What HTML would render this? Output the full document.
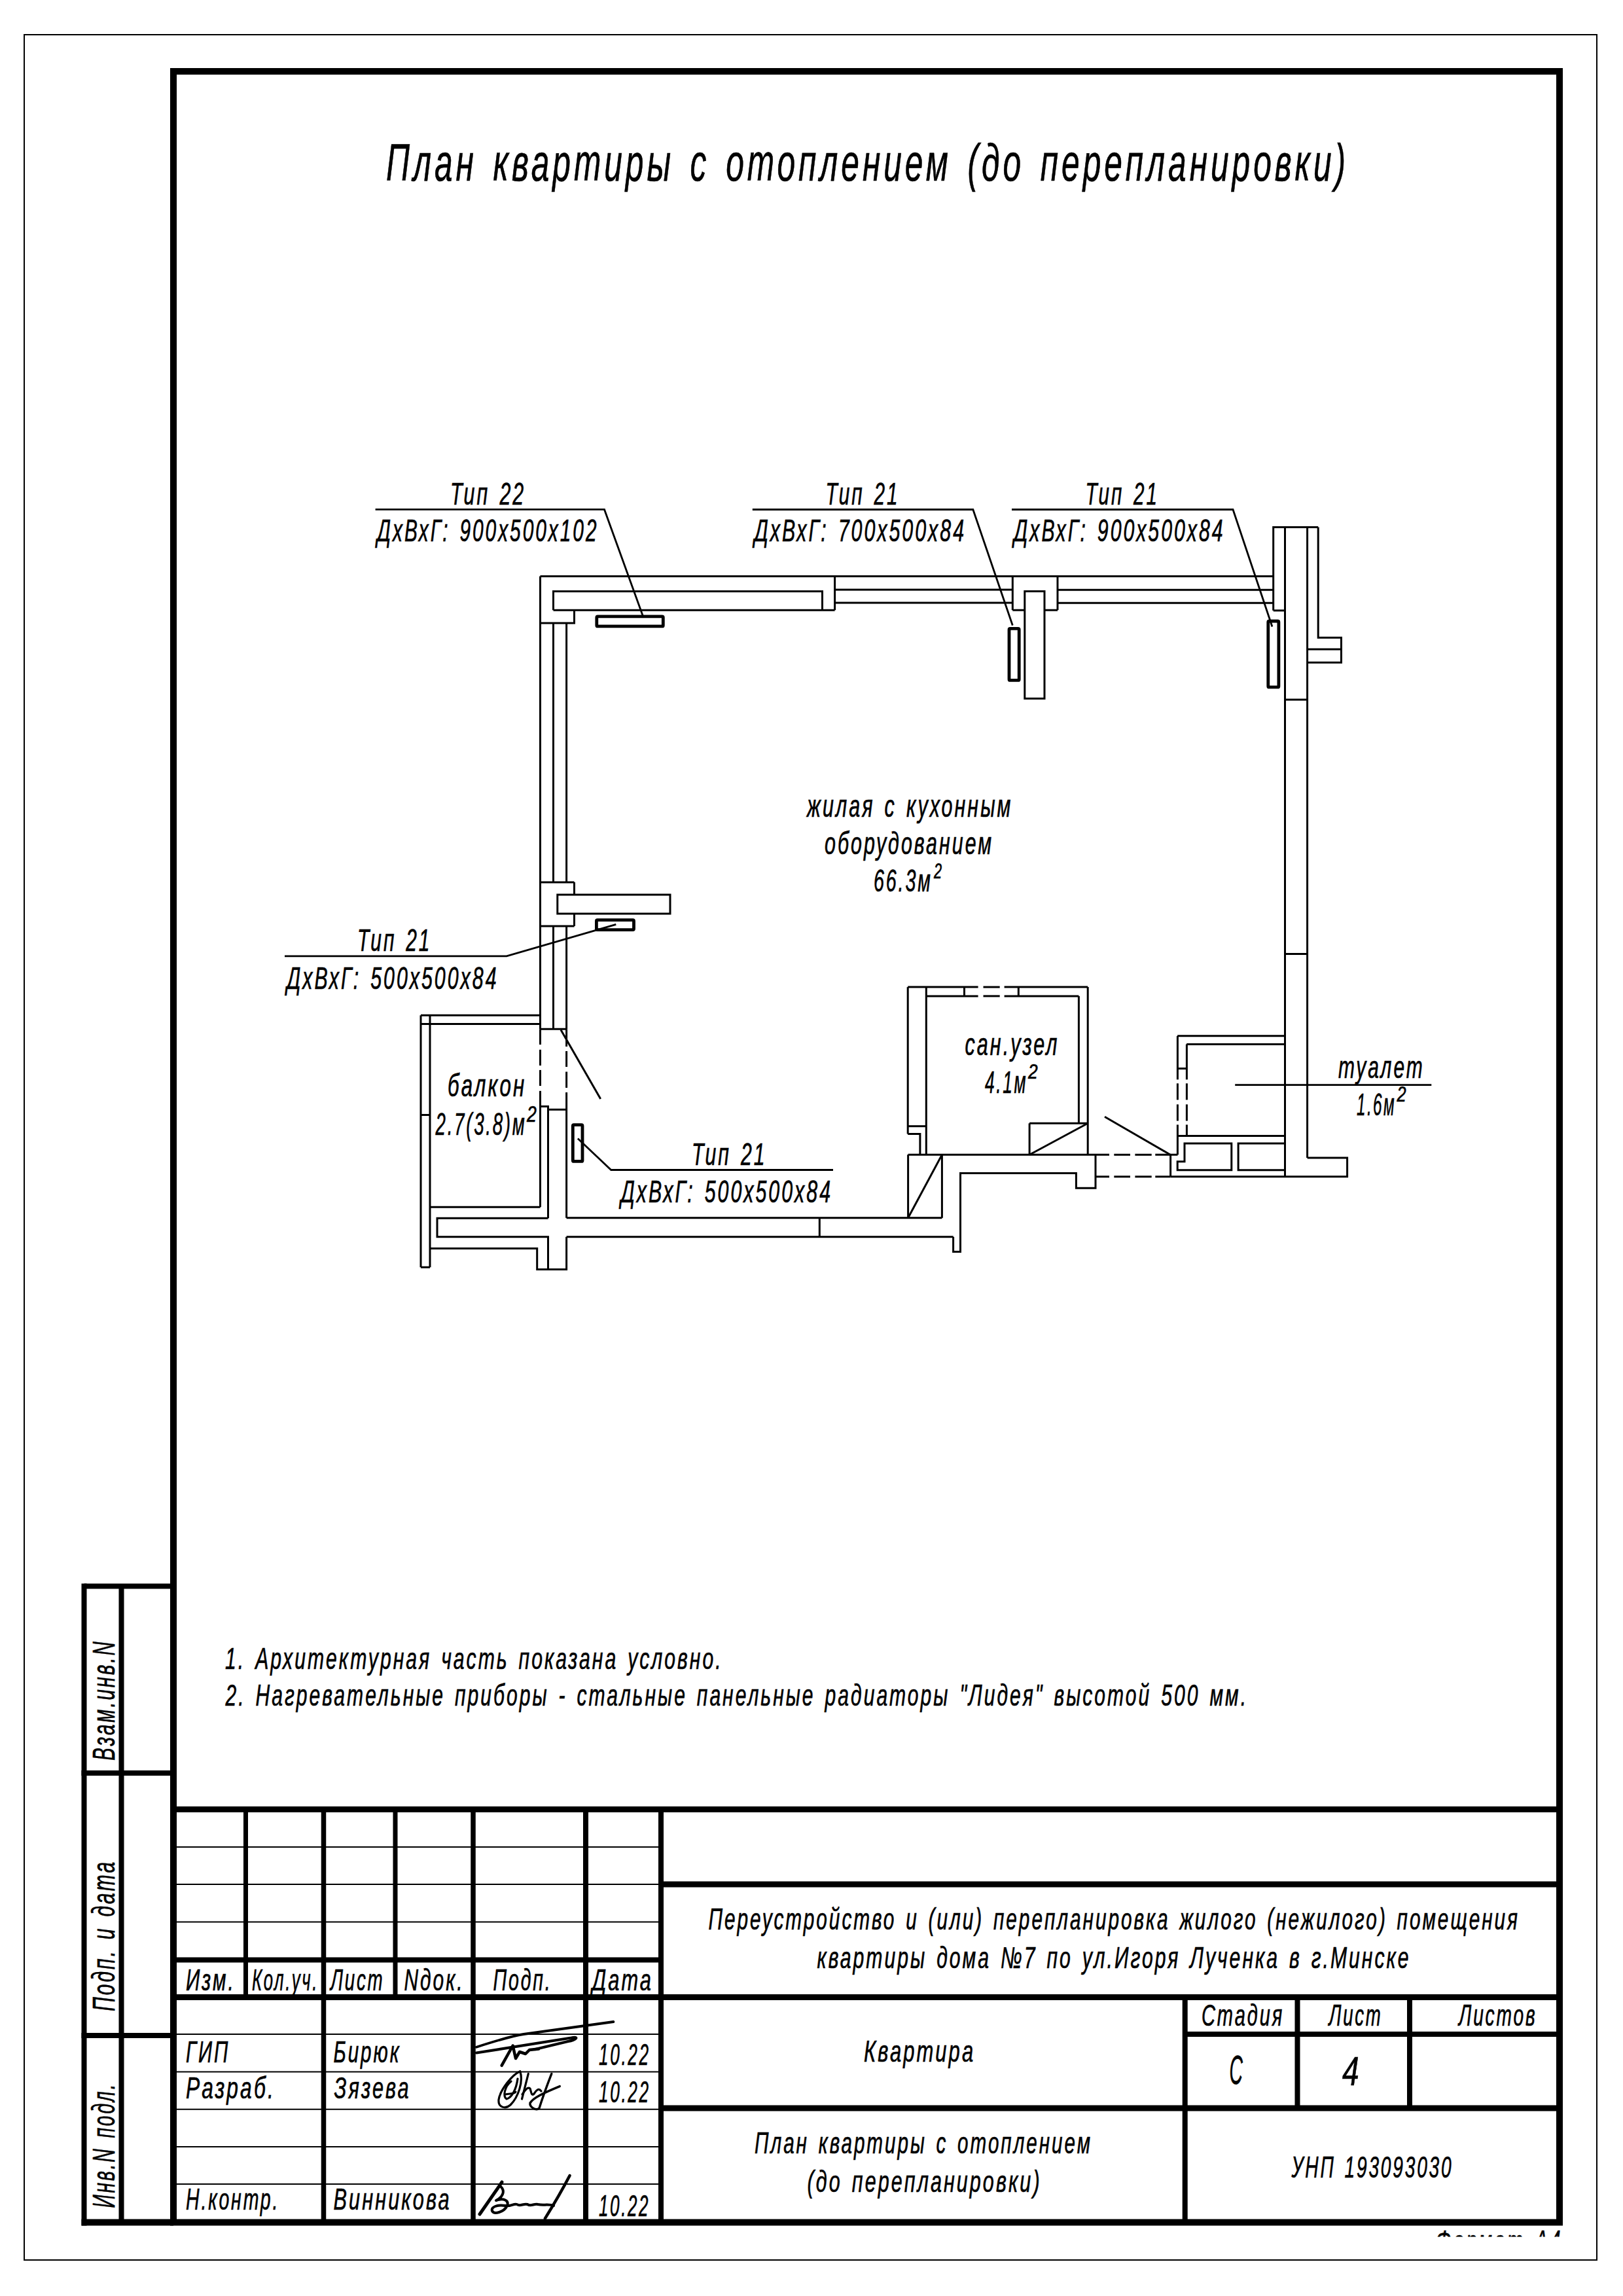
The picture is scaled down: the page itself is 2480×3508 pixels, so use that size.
<!DOCTYPE html>
<html><head><meta charset="utf-8"><title>План квартиры с отоплением</title><style>
html,body{margin:0;padding:0;background:#fff;}
svg{display:block;}
text{font-family:"Liberation Sans",sans-serif;font-style:italic;fill:#000;letter-spacing:0.1em;word-spacing:0.12em;stroke:#000;stroke-width:0.7px;}
</style></head><body>
<svg width="2480" height="3508" viewBox="0 0 2480 3508">
<defs><clipPath id="clipF"><rect x="2150" y="3402" width="300" height="15.5"/></clipPath></defs>
<rect x="0" y="0" width="2480" height="3508" fill="#fff"/>
<g stroke="#000" fill="none">
<rect x="37" y="53" width="2403" height="3400" stroke-width="2" fill="none"/>
<path d="M265,109 L2383,109 L2383,3395.5 L265,3395.5 Z" stroke-width="10" fill="none"/>
<line x1="128.5" y1="2423.5" x2="265" y2="2423.5" stroke-width="8"/>
<line x1="128.5" y1="2419.5" x2="128.5" y2="3400.5" stroke-width="8"/>
<line x1="185.5" y1="2423.5" x2="185.5" y2="3395.5" stroke-width="8"/>
<line x1="124.5" y1="2709" x2="265" y2="2709" stroke-width="8"/>
<line x1="124.5" y1="3110" x2="265" y2="3110" stroke-width="8"/>
<line x1="124.5" y1="3395.5" x2="265" y2="3395.5" stroke-width="10"/>
<line x1="265" y1="2764.5" x2="2383" y2="2764.5" stroke-width="9"/>
<line x1="265" y1="2822" x2="1010" y2="2822" stroke-width="2"/>
<line x1="265" y1="2879" x2="1010" y2="2879" stroke-width="2"/>
<line x1="265" y1="2936.5" x2="1010" y2="2936.5" stroke-width="2"/>
<line x1="265" y1="2994.5" x2="1010" y2="2994.5" stroke-width="8"/>
<line x1="265" y1="3051.5" x2="2383" y2="3051.5" stroke-width="9"/>
<line x1="265" y1="3108" x2="1010" y2="3108" stroke-width="2"/>
<line x1="265" y1="3165.5" x2="1010" y2="3165.5" stroke-width="2"/>
<line x1="265" y1="3222.8" x2="1010" y2="3222.8" stroke-width="2"/>
<line x1="265" y1="3280" x2="1010" y2="3280" stroke-width="2"/>
<line x1="265" y1="3337" x2="1010" y2="3337" stroke-width="2"/>
<line x1="375.5" y1="2764.5" x2="375.5" y2="3051.5" stroke-width="7"/>
<line x1="604" y1="2764.5" x2="604" y2="3051.5" stroke-width="7"/>
<line x1="494.5" y1="2764.5" x2="494.5" y2="3395.5" stroke-width="7.5"/>
<line x1="723" y1="2764.5" x2="723" y2="3395.5" stroke-width="7.5"/>
<line x1="895" y1="2764.5" x2="895" y2="3395.5" stroke-width="8"/>
<line x1="1010" y1="2764.5" x2="1010" y2="3395.5" stroke-width="8"/>
<line x1="1010" y1="2879" x2="2383" y2="2879" stroke-width="9"/>
<line x1="1010" y1="3221" x2="2383" y2="3221" stroke-width="9"/>
<line x1="1810.7" y1="3051.5" x2="1810.7" y2="3395.5" stroke-width="8"/>
<line x1="1810.7" y1="3108" x2="2383" y2="3108" stroke-width="8"/>
<line x1="1982.5" y1="3051.5" x2="1982.5" y2="3221" stroke-width="8"/>
<line x1="2154" y1="3051.5" x2="2154" y2="3221" stroke-width="8"/>
<line x1="825.5" y1="880.4" x2="1945.7" y2="880.4" stroke-width="3"/>
<line x1="825.5" y1="880.4" x2="825.5" y2="1572.3" stroke-width="3"/>
<path d="M845.5,932.2 L845.5,903.5 L1256.5,903.5 L1256.5,932.2" stroke-width="3" fill="none"/>
<line x1="845.5" y1="932.2" x2="1275.6" y2="932.2" stroke-width="3"/>
<line x1="1275.6" y1="880.4" x2="1275.6" y2="932.2" stroke-width="3"/>
<path d="M877.5,932.2 L877.5,952 L825.5,952" stroke-width="3" fill="none"/>
<line x1="1275.6" y1="900.9" x2="1547.3" y2="900.9" stroke-width="3"/>
<line x1="1275.6" y1="921.1" x2="1547.3" y2="921.1" stroke-width="3"/>
<line x1="1547.3" y1="880.4" x2="1547.3" y2="932.2" stroke-width="3"/>
<line x1="1547.3" y1="932.2" x2="1565.8" y2="932.2" stroke-width="3"/>
<rect x="1565.8" y="903.4" width="30.2" height="163.9" stroke-width="3" fill="none"/>
<line x1="1596" y1="932.2" x2="1616" y2="932.2" stroke-width="3"/>
<line x1="1616" y1="880.4" x2="1616" y2="932.2" stroke-width="3"/>
<line x1="1616" y1="901.3" x2="1945.7" y2="901.3" stroke-width="3"/>
<line x1="1616" y1="921.2" x2="1945.7" y2="921.2" stroke-width="3"/>
<path d="M1945.7,932.8 L1945.7,805.4 L2014.2,805.4" stroke-width="3" fill="none"/>
<line x1="1945.7" y1="932.8" x2="1963.5" y2="932.8" stroke-width="3"/>
<line x1="1963.5" y1="805.4" x2="1963.5" y2="1797.8" stroke-width="3"/>
<line x1="1997.6" y1="805.4" x2="1997.6" y2="1769.1" stroke-width="3"/>
<path d="M2014.2,805.4 L2014.2,974.2 L2049.5,974.2 L2049.5,1012.2 L1997.6,1012.2" stroke-width="3" fill="none"/>
<line x1="1997.6" y1="992" x2="2049.5" y2="992" stroke-width="3"/>
<line x1="1963.5" y1="1069" x2="1997.6" y2="1069" stroke-width="3"/>
<line x1="1963.5" y1="1457.6" x2="1997.6" y2="1457.6" stroke-width="3"/>
<path d="M1997.6,1769.1 L2058.6,1769.1 L2058.6,1797.8 L1788.6,1797.8" stroke-width="3" fill="none"/>
<line x1="825.5" y1="1572.3" x2="825.5" y2="1596" stroke-width="3"/>
<line x1="825.5" y1="1603.8" x2="825.5" y2="1628" stroke-width="3"/>
<line x1="825.5" y1="1634.9" x2="825.5" y2="1659" stroke-width="3"/>
<line x1="825.5" y1="1666.8" x2="825.5" y2="1844.2" stroke-width="3"/>
<line x1="845.5" y1="952" x2="845.5" y2="1348" stroke-width="3"/>
<line x1="845.5" y1="1415" x2="845.5" y2="1572.3" stroke-width="3"/>
<line x1="865.6" y1="952" x2="865.6" y2="1348" stroke-width="3"/>
<line x1="865.6" y1="1415" x2="865.6" y2="1572.3" stroke-width="3"/>
<line x1="865.6" y1="1572.3" x2="865.6" y2="1599" stroke-width="3"/>
<line x1="865.6" y1="1606" x2="865.6" y2="1630" stroke-width="3"/>
<line x1="865.6" y1="1637.5" x2="865.6" y2="1662" stroke-width="3"/>
<line x1="865.6" y1="1669" x2="865.6" y2="1860.8" stroke-width="3"/>
<line x1="825.5" y1="1348" x2="877.5" y2="1348" stroke-width="3"/>
<line x1="825.5" y1="1415" x2="877.5" y2="1415" stroke-width="3"/>
<line x1="877.5" y1="1348" x2="877.5" y2="1367" stroke-width="3"/>
<line x1="877.5" y1="1396" x2="877.5" y2="1415" stroke-width="3"/>
<rect x="851.8" y="1367" width="172.2" height="29" stroke-width="3" fill="none"/>
<line x1="825.5" y1="1572.3" x2="865.6" y2="1572.3" stroke-width="3"/>
<line x1="857" y1="1573.6" x2="917.7" y2="1678.9" stroke-width="3"/>
<path d="M825.5,1690.5 L837.5,1690.5 L837.5,1861.3" stroke-width="3" fill="none"/>
<line x1="837.5" y1="1695.3" x2="865.6" y2="1695.3" stroke-width="3"/>
<line x1="643" y1="1551.2" x2="825.5" y2="1551.2" stroke-width="3"/>
<line x1="643" y1="1564.4" x2="825.5" y2="1564.4" stroke-width="3"/>
<line x1="643" y1="1551.2" x2="643" y2="1936.2" stroke-width="3"/>
<line x1="657" y1="1551.2" x2="657" y2="1936.2" stroke-width="3"/>
<line x1="643" y1="1703.5" x2="657" y2="1703.5" stroke-width="3"/>
<line x1="643" y1="1936.2" x2="657" y2="1936.2" stroke-width="3"/>
<line x1="657" y1="1844.2" x2="825.5" y2="1844.2" stroke-width="3"/>
<path d="M837.5,1861.3 L668,1861.3 L668,1889.8 L837.5,1889.8 L837.5,1939.5" stroke-width="3" fill="none"/>
<path d="M657,1907.4 L820.7,1907.4 L820.7,1939.5 L865.6,1939.5 L865.6,1889.8" stroke-width="3" fill="none"/>
<line x1="865.6" y1="1860.8" x2="1439.4" y2="1860.8" stroke-width="3"/>
<line x1="865.6" y1="1889.8" x2="1456.6" y2="1889.8" stroke-width="3"/>
<line x1="1252.3" y1="1860.8" x2="1252.3" y2="1889.8" stroke-width="3"/>
<line x1="1387.6" y1="1764.2" x2="1387.6" y2="1860.8" stroke-width="3"/>
<line x1="1439.4" y1="1764.2" x2="1439.4" y2="1860.8" stroke-width="3"/>
<line x1="1439.4" y1="1764.2" x2="1387.6" y2="1860.8" stroke-width="3"/>
<path d="M1456.6,1889.8 L1456.6,1912.5 L1467.5,1912.5 L1467.5,1792.4 L1644.4,1792.4 L1644.4,1815.2 L1674,1815.2 L1674,1764.2" stroke-width="3" fill="none"/>
<line x1="1387.6" y1="1764.3" x2="1695" y2="1764.3" stroke-width="3"/>
<line x1="1702.3" y1="1764.3" x2="1727" y2="1764.3" stroke-width="3"/>
<line x1="1734.4" y1="1764.3" x2="1759.7" y2="1764.3" stroke-width="3"/>
<line x1="1765.3" y1="1764.3" x2="1799.5" y2="1764.3" stroke-width="3"/>
<line x1="1674" y1="1797.8" x2="1695" y2="1797.8" stroke-width="3"/>
<line x1="1702.3" y1="1797.8" x2="1727" y2="1797.8" stroke-width="3"/>
<line x1="1734.4" y1="1797.8" x2="1759.7" y2="1797.8" stroke-width="3"/>
<line x1="1765.3" y1="1797.8" x2="1788.6" y2="1797.8" stroke-width="3"/>
<line x1="1788.6" y1="1764.2" x2="1788.6" y2="1797.8" stroke-width="3"/>
<line x1="1688" y1="1706.2" x2="1788.6" y2="1764.5" stroke-width="3"/>
<line x1="1387.2" y1="1508.1" x2="1494.6" y2="1508.1" stroke-width="3"/>
<line x1="1502.5" y1="1508.1" x2="1527.7" y2="1508.1" stroke-width="3"/>
<line x1="1534.6" y1="1508.1" x2="1662.2" y2="1508.1" stroke-width="3"/>
<line x1="1415.3" y1="1521.9" x2="1494.6" y2="1521.9" stroke-width="3"/>
<line x1="1502.5" y1="1521.9" x2="1527.7" y2="1521.9" stroke-width="3"/>
<line x1="1534.6" y1="1521.9" x2="1648.4" y2="1521.9" stroke-width="3"/>
<line x1="1473.5" y1="1508.1" x2="1473.5" y2="1521.9" stroke-width="3"/>
<line x1="1556.3" y1="1508.1" x2="1556.3" y2="1521.9" stroke-width="3"/>
<line x1="1387.2" y1="1508.1" x2="1387.2" y2="1732.5" stroke-width="3"/>
<line x1="1387.2" y1="1720.7" x2="1415.3" y2="1720.7" stroke-width="3"/>
<path d="M1387.2,1732.5 L1405.9,1732.5 L1405.9,1764.2" stroke-width="3" fill="none"/>
<line x1="1415.3" y1="1508.1" x2="1415.3" y2="1764.2" stroke-width="3"/>
<line x1="1648.4" y1="1521.9" x2="1648.4" y2="1716.3" stroke-width="3"/>
<line x1="1662.2" y1="1508.1" x2="1662.2" y2="1764.2" stroke-width="3"/>
<line x1="1573.1" y1="1716.3" x2="1662.2" y2="1716.3" stroke-width="3"/>
<line x1="1573.1" y1="1716.3" x2="1573.1" y2="1764.2" stroke-width="3"/>
<line x1="1573.1" y1="1764.2" x2="1662.2" y2="1716.3" stroke-width="3"/>
<line x1="1799.2" y1="1582.8" x2="1963.5" y2="1582.8" stroke-width="3"/>
<line x1="1813.2" y1="1595.5" x2="1963.5" y2="1595.5" stroke-width="3"/>
<line x1="1799.4" y1="1582.8" x2="1799.4" y2="1649.4" stroke-width="3"/>
<line x1="1799.4" y1="1655.3" x2="1799.4" y2="1680.4" stroke-width="3"/>
<line x1="1799.4" y1="1687.4" x2="1799.4" y2="1712.5" stroke-width="3"/>
<line x1="1799.4" y1="1718.4" x2="1799.4" y2="1764.3" stroke-width="3"/>
<line x1="1813.4" y1="1595.5" x2="1813.4" y2="1649.4" stroke-width="3"/>
<line x1="1813.4" y1="1655.3" x2="1813.4" y2="1680.4" stroke-width="3"/>
<line x1="1813.4" y1="1687.4" x2="1813.4" y2="1712.5" stroke-width="3"/>
<line x1="1813.4" y1="1718.4" x2="1813.4" y2="1735.5" stroke-width="3"/>
<line x1="1799.4" y1="1632.6" x2="1813.4" y2="1632.6" stroke-width="3"/>
<line x1="1799.2" y1="1735.5" x2="1963.5" y2="1735.5" stroke-width="3"/>
<path d="M1810,1746.9 L1881.8,1746.9 L1881.8,1787.7 L1799.2,1787.7 L1799.2,1774.8 L1810,1774.8 Z" stroke-width="3" fill="none"/>
<path d="M1963.5,1746.9 L1892.1,1746.9 L1892.1,1787.7 L1963.5,1787.7" stroke-width="3" fill="none"/>
<rect x="911.8" y="941.9" width="101.5" height="15" stroke-width="4.8" fill="none" rx="1.5"/>
<rect x="1542" y="960.4" width="15.2" height="79" stroke-width="4.8" fill="none" rx="1.5"/>
<rect x="1937.8" y="949" width="16.1" height="100.9" stroke-width="4.8" fill="none" rx="1.5"/>
<rect x="911.4" y="1405.7" width="57.1" height="14.9" stroke-width="4.8" fill="none" rx="1.5"/>
<rect x="875.3" y="1718.7" width="14.7" height="55.7" stroke-width="4.8" fill="none" rx="1.5"/>
<path d="M573.6,778.4 L923.5,778.4 L983.3,943.8" stroke-width="2.8" fill="none"/>
<path d="M1149.8,778.5 L1486.8,778.5 L1547.3,955.5" stroke-width="2.8" fill="none"/>
<path d="M1546,778.5 L1884,778.5 L1944,957.5" stroke-width="2.8" fill="none"/>
<path d="M941.3,1412.4 L774.1,1460.9 L435,1460.9" stroke-width="2.8" fill="none"/>
<path d="M882.9,1739.6 L933.7,1787.5 L1273,1787.5" stroke-width="2.8" fill="none"/>
<line x1="1887.2" y1="1657.6" x2="2187.3" y2="1657.6" stroke-width="2.8"/>
</g>

<g stroke="#000" stroke-linecap="round" stroke-linejoin="round" fill="none">
<path d="M728,3127.7 C755,3119 780,3111 800,3108 L937.4,3089" stroke-width="3.8"/>
<path d="M728,3136.5 L873,3113.5 C886,3111 880,3117 868,3119 L818,3131" stroke-width="4.2"/>
<path d="M766.6,3155.8 L783.6,3125.5 L788,3145 L794,3135 L803,3138 L809,3132 L823,3130.6" stroke-width="4.5"/>
<path d="M794.7,3164.7 C782,3170 764,3194 762,3208 C761,3220 772,3223 780,3216 C792,3204 800,3180 794.7,3164.7" stroke-width="3.2"/>
<path d="M781,3180 C771,3188 768,3203 774,3207 C782,3205 789,3192 791,3176" stroke-width="3.2"/>
<path d="M772,3200 C778,3198 786,3200 788,3196" stroke-width="3"/>
<path d="M807.3,3168.4 L797.5,3207" stroke-width="3.2"/>
<path d="M798,3200 C802,3194 806,3188 810,3191 C812,3197 812,3203 816,3199 C820,3193 823,3190 827,3195" stroke-width="3.2"/>
<path d="M842.8,3168.4 C836,3186 829,3205 824,3221 C819,3226 809,3219 810,3213 C815,3205 830,3198 855.3,3187.6" stroke-width="3.4"/>
<path d="M733,3383 L767,3334" stroke-width="5"/>
<path d="M764,3340 C772,3346 770,3356 758,3362 C770,3358 778,3362 775,3370 C770,3380 755,3384 752,3378 C750,3372 760,3368 772,3370 C780,3372 785,3366 790,3368 C795,3372 800,3366 806,3368 C812,3372 816,3366 822,3368 C830,3370 838,3367 846,3370" stroke-width="4"/>
<path d="M832.8,3389.6 C845,3370 858,3348 870.6,3324" stroke-width="4.5"/>
</g>
<g>
<text x="590" y="275.7" textLength="1471.1" lengthAdjust="spacingAndGlyphs" font-size="80">План квартиры с отоплением (до перепланировки)</text>
<text x="688" y="770.6" textLength="115.3" lengthAdjust="spacingAndGlyphs" font-size="47.5">Тип 22</text>
<text x="576" y="827.3" textLength="338.5" lengthAdjust="spacingAndGlyphs" font-size="47.5">ДхВхГ: 900х500х102</text>
<text x="1261.5" y="770.5" textLength="113" lengthAdjust="spacingAndGlyphs" font-size="47.5">Тип 21</text>
<text x="1152.5" y="826.9" textLength="323.5" lengthAdjust="spacingAndGlyphs" font-size="47.5">ДхВхГ: 700х500х84</text>
<text x="1658.5" y="770.5" textLength="112.5" lengthAdjust="spacingAndGlyphs" font-size="47.5">Тип 21</text>
<text x="1549" y="827" textLength="322.5" lengthAdjust="spacingAndGlyphs" font-size="47.5">ДхВхГ: 900х500х84</text>
<text x="546" y="1453" textLength="113.5" lengthAdjust="spacingAndGlyphs" font-size="47.5">Тип 21</text>
<text x="438" y="1511" textLength="323.5" lengthAdjust="spacingAndGlyphs" font-size="47.5">ДхВхГ: 500х500х84</text>
<text x="1057" y="1780" textLength="114.5" lengthAdjust="spacingAndGlyphs" font-size="47.5">Тип 21</text>
<text x="948.5" y="1837.3" textLength="323.5" lengthAdjust="spacingAndGlyphs" font-size="47.5">ДхВхГ: 500х500х84</text>
<text x="1233" y="1247.7" textLength="314.5" lengthAdjust="spacingAndGlyphs" font-size="47.5">жилая с кухонным</text>
<text x="1260" y="1304.9" textLength="258.1" lengthAdjust="spacingAndGlyphs" font-size="47.5">оборудованием</text>
<text x="1335" y="1362" textLength="89.7" lengthAdjust="spacingAndGlyphs" font-size="47.5">66.3м</text>
<text x="1427" y="1342" textLength="14.3" lengthAdjust="spacingAndGlyphs" font-size="33.4">2</text>
<text x="1474.5" y="1612.2" textLength="144.1" lengthAdjust="spacingAndGlyphs" font-size="47.5">сан.узел</text>
<text x="1505" y="1669.8" textLength="65.2" lengthAdjust="spacingAndGlyphs" font-size="47.5">4.1м</text>
<text x="1571" y="1647.7" textLength="17.3" lengthAdjust="spacingAndGlyphs" font-size="32.1">2</text>
<text x="2045" y="1646.5" textLength="131.6" lengthAdjust="spacingAndGlyphs" font-size="47.5">туалет</text>
<text x="2073" y="1703.5" textLength="60.1" lengthAdjust="spacingAndGlyphs" font-size="47.5">1.6м</text>
<text x="2134.5" y="1682.6" textLength="16.6" lengthAdjust="spacingAndGlyphs" font-size="33">2</text>
<text x="684" y="1675.3" textLength="120.3" lengthAdjust="spacingAndGlyphs" font-size="47.5">балкон</text>
<text x="665.5" y="1733.6" textLength="139" lengthAdjust="spacingAndGlyphs" font-size="47.5">2.7(3.8)м</text>
<text x="805" y="1713.7" textLength="17.5" lengthAdjust="spacingAndGlyphs" font-size="34.9">2</text>
<text x="344" y="2549.8" textLength="760.6" lengthAdjust="spacingAndGlyphs" font-size="46">1. Архитектурная часть показана условно.</text>
<text x="344.5" y="2605.5" textLength="1562.5" lengthAdjust="spacingAndGlyphs" font-size="46">2. Нагревательные приборы - стальные панельные радиаторы &quot;Лидея&quot; высотой 500 мм.</text>
<text x="284" y="3040.8" textLength="75.7" lengthAdjust="spacingAndGlyphs" font-size="46">Изм.</text>
<text x="385" y="3040.8" textLength="101.9" lengthAdjust="spacingAndGlyphs" font-size="46">Кол.уч.</text>
<text x="505" y="3040.8" textLength="82.5" lengthAdjust="spacingAndGlyphs" font-size="46">Лист</text>
<text x="617.5" y="3040.8" textLength="92.1" lengthAdjust="spacingAndGlyphs" font-size="46">Nдок.</text>
<text x="753.5" y="3040.8" textLength="90" lengthAdjust="spacingAndGlyphs" font-size="46">Подп.</text>
<text x="904.5" y="3040.8" textLength="93.5" lengthAdjust="spacingAndGlyphs" font-size="46">Дата</text>
<text x="284" y="3151.4" textLength="67.2" lengthAdjust="spacingAndGlyphs" font-size="47">ГИП</text>
<text x="284" y="3206.2" textLength="136.9" lengthAdjust="spacingAndGlyphs" font-size="47">Разраб.</text>
<text x="284" y="3376.2" textLength="143.3" lengthAdjust="spacingAndGlyphs" font-size="47">Н.контр.</text>
<text x="509.5" y="3151.4" textLength="103.1" lengthAdjust="spacingAndGlyphs" font-size="47">Бирюк</text>
<text x="510.5" y="3206.2" textLength="117.1" lengthAdjust="spacingAndGlyphs" font-size="47">Зязева</text>
<text x="509.5" y="3376.2" textLength="180.1" lengthAdjust="spacingAndGlyphs" font-size="47">Винникова</text>
<text x="915" y="3154.5" textLength="78.7" lengthAdjust="spacingAndGlyphs" font-size="47">10.22</text>
<text x="915" y="3211.5" textLength="78.7" lengthAdjust="spacingAndGlyphs" font-size="47">10.22</text>
<text x="915" y="3386" textLength="78.1" lengthAdjust="spacingAndGlyphs" font-size="47">10.22</text>
<text x="1082.5" y="2947.5" textLength="1239.5" lengthAdjust="spacingAndGlyphs" font-size="46">Переустройство и (или) перепланировка жилого (нежилого) помещения</text>
<text x="1248.5" y="3006.7" textLength="907" lengthAdjust="spacingAndGlyphs" font-size="46">квартиры дома №7 по ул.Игоря Лученка в г.Минске</text>
<text x="1836" y="3094.7" textLength="126.1" lengthAdjust="spacingAndGlyphs" font-size="46">Стадия</text>
<text x="2030.5" y="3094.7" textLength="82.1" lengthAdjust="spacingAndGlyphs" font-size="46">Лист</text>
<text x="2229" y="3094.7" textLength="119.5" lengthAdjust="spacingAndGlyphs" font-size="46">Листов</text>
<text x="1878.5" y="3184.2" textLength="23.2" lengthAdjust="spacingAndGlyphs" font-size="63">С</text>
<text x="2051" y="3185.5" textLength="30.3" lengthAdjust="spacingAndGlyphs" font-size="63">4</text>
<text x="1320" y="3150.4" textLength="170.2" lengthAdjust="spacingAndGlyphs" font-size="47">Квартира</text>
<text x="1153" y="3290.2" textLength="516" lengthAdjust="spacingAndGlyphs" font-size="47">План квартиры с отоплением</text>
<text x="1233.5" y="3348.9" textLength="358.1" lengthAdjust="spacingAndGlyphs" font-size="47">(до перепланировки)</text>
<text x="1973.5" y="3326.5" textLength="247" lengthAdjust="spacingAndGlyphs" font-size="47">УНП 193093030</text>
<text transform="translate(175,2690) rotate(-90)" x="0" y="0" textLength="184.6" lengthAdjust="spacingAndGlyphs" font-size="49">Взам.инв.N</text>
<text transform="translate(175,3073) rotate(-90)" x="0" y="0" textLength="231.1" lengthAdjust="spacingAndGlyphs" font-size="49">Подп. и дата</text>
<text transform="translate(175,3373.5) rotate(-90)" x="0" y="0" textLength="191.8" lengthAdjust="spacingAndGlyphs" font-size="49">Инв.N подл.</text>
<g clip-path="url(#clipF)"><text x="2194" y="3440" textLength="193.7" lengthAdjust="spacingAndGlyphs" font-size="47">Формат А4</text></g>
</g>
</svg>
</body></html>
